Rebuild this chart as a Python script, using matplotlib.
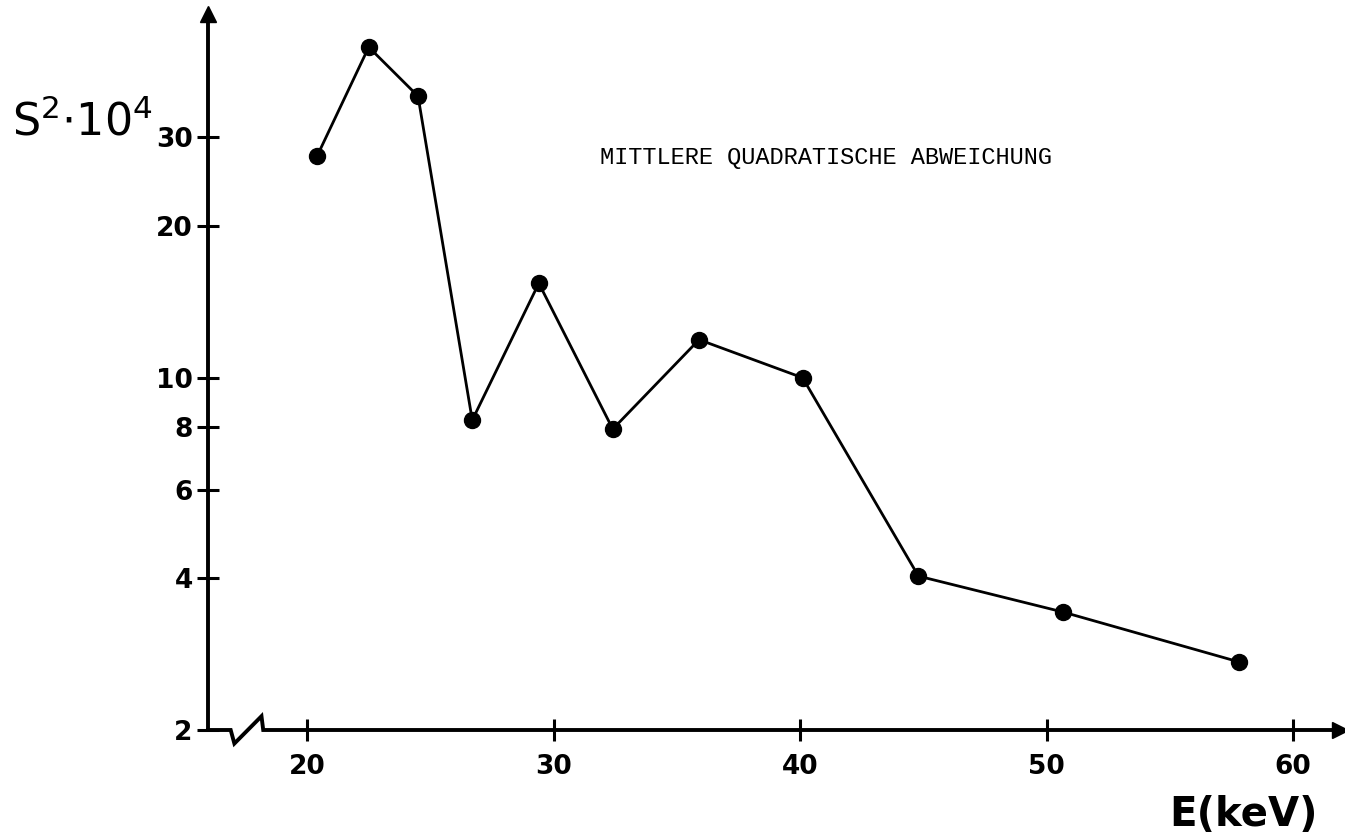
import matplotlib
matplotlib.use('Agg')
import matplotlib.pyplot as plt

# data
energy = [20.4, 22.5, 24.5, 26.7, 29.4, 32.4, 35.9, 40.1, 44.8, 50.65, 57.8]
s2 = [27.5, 45.3, 36.2, 8.24, 15.4, 7.91, 11.9, 10.0, 4.04, 3.43, 2.73]

xticks = [20, 30, 40, 50, 60]
yticks = [2, 4, 6, 8, 10, 20, 30]

W, H = 1345, 838
fig = plt.figure(figsize=(W / 100, H / 100), dpi=100)
ax = fig.add_axes([208 / W, 108 / H, (1340 - 208) / W, 716 / H])

ax.set_yscale('log')
ax.set_xlim(15.98, 61.9)
ax.set_ylim(2, 52.7)

ax.plot(energy, s2, color='black', lw=2.0, marker='o', ms=11.5, zorder=3)

for side in ['top', 'right', 'bottom']:
    ax.spines[side].set_visible(False)
ax.spines['left'].set_linewidth(2.8)

# x axis with the break near the origin
bx = [15.98, 16.9, 17.05, 18.15, 18.22, 61.9]
by = [2, 2, 1.88, 2.13, 2, 2]
ax.plot(bx, by, color='black', lw=2.8, clip_on=False, solid_joinstyle='miter')

# arrow heads
ax.plot([0], [1], marker='^', ms=11, color='black', transform=ax.transAxes, clip_on=False)
ax.plot([1], [0], marker='>', ms=11, color='black', transform=ax.transAxes, clip_on=False)

ax.set_xticks(xticks)
ax.set_xticklabels([str(v) for v in xticks])
ax.set_yticks(yticks)
ax.set_yticklabels([str(v) for v in yticks])
ax.yaxis.set_minor_locator(matplotlib.ticker.NullLocator())
ax.tick_params(direction='inout', length=16, width=2.2, labelsize=19)
ax.tick_params(axis='x', pad=9)
ax.tick_params(axis='y', pad=3)
for lab in ax.get_xticklabels() + ax.get_yticklabels():
    lab.set_fontweight('bold')

fig.text(12 / W, 1 - 135 / H, r'$\mathsf{S^2{\cdot}10^4}$', fontsize=32,
         ha='left', va='baseline')
fig.text(1318 / W, 1 - 826 / H, 'E(keV)', fontsize=29, fontweight='bold',
         ha='right', va='baseline')
fig.text(826 / W, 1 - 157 / H, 'MITTLERE QUADRATISCHE ABWEICHUNG',
         family=['Liberation Mono', 'DejaVu Sans Mono'], fontsize=17,
         ha='center', va='center')

fig.savefig('out.png', dpi=100)
